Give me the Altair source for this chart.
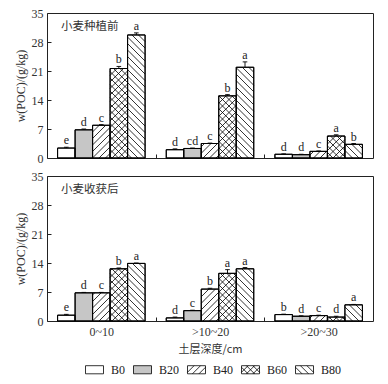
import math
import altair as alt
import pandas as pd

groups = ["0~10", ">10~20", ">20~30"]
series = ["B0", "B20", "B40", "B60", "B80"]
fills = ["#ffffff", "#c6c6c6", "#ffffff", "#ffffff", "#ffffff"]
hatches = ["", "", "/", "x", "\\"]

# 小麦种植前 (before planting), rows = soil depth groups, cols = B0..B80
before_0_10 = [2.4, 6.8, 7.9, 21.6, 29.7]
before_10_20 = [2.0, 2.3, 3.5, 15.0, 21.9]
before_20_30 = [0.9, 0.8, 1.6, 5.3, 3.3]
before_err = [[0.2, 0.2, 0.15, 0.5, 0.5],
              [0.2, 0.1, 0.1, 0.3, 1.3],
              [0.1, 0.1, 0.1, 0.3, 0.2]]
before_letters = [["e", "d", "c", "b", "a"],
                  ["d", "cd", "c", "b", "a"],
                  ["d", "d", "c", "a", "b"]]

# 小麦收获后 (after harvest)
after_0_10 = [1.4, 6.8, 6.8, 12.6, 13.9]
after_10_20 = [0.75, 2.5, 7.7, 11.5, 12.6]
after_20_30 = [1.55, 1.15, 1.3, 0.95, 3.9]
after_err = [[0.2, 0.1, 0.1, 0.2, 0.1],
             [0.2, 0.1, 0.2, 0.9, 0.3],
             [0.1, 0.1, 0.1, 0.2, 0.1]]
after_letters = [["e", "d", "c", "b", "a"],
                 ["d", "c", "b", "a", "a"],
                 ["b", "d", "c", "d", "a"]]

y_ticks = [0, 7, 14, 21, 28, 35]

W, H = 326, 145
XMIN, XMAX = -0.5, 2.5
YMAX = 35
SX = W / (XMAX - XMIN)
SY = H / YMAX
BW = 17.5 / SX
CAP = 2.3 / SX
D = 6.5  # hatch spacing (px, horizontal)

SERIF = "Times New Roman, Liberation Serif, DejaVu Serif, serif"
CJK = "Noto Sans CJK SC"


def hatch(x0, x1, y0, y1, d, slope):
    segs = []
    if slope > 0:  # '/'  Y = X - c
        kmin = math.ceil((x0 - y1) / d)
        kmax = math.floor((x1 - y0) / d)
        for k in range(kmin, kmax + 1):
            c = k * d
            a = max(x0, y0 + c)
            b = min(x1, y1 + c)
            if b - a > 0.3:
                segs.append((a, a - c, b, b - c))
    else:  # '\'  Y = c - X
        kmin = math.ceil((x0 + y0) / d)
        kmax = math.floor((x1 + y1) / d)
        for k in range(kmin, kmax + 1):
            c = k * d
            a = max(x0, c - y1)
            b = min(x1, c - y0)
            if b - a > 0.3:
                segs.append((a, c - a, b, c - b))
    return segs


def slopes(kind):
    return {"/": [1], "\\": [-1], "x": [1, -1]}.get(kind, [])


def legend_path(kind):
    s = 9.0  # symbol scale (sqrt(size)/2)
    hw, hh = 1.0, 0.45
    p = "M-1,-0.45L1,-0.45L1,0.45L-1,0.45Z"
    for sl in slopes(kind):
        for a, ya, b, yb in hatch(-hw * s, hw * s, -hh * s, hh * s, D, sl):
            p += " M%.3f,%.3f L%.3f,%.3f" % (a / s, -ya / s, b / s, -yb / s)
    return p


paths = [legend_path(h) for h in hatches]


def panel(vals, errs, letters, title, bottom):
    rows, hrows = [], []
    for g in range(3):
        for j in range(5):
            c = g + (j - 2) * BW
            v = vals[g][j]
            e = errs[g][j]
            rows.append(dict(series=series[j], xc=c, xl=c - BW / 2, xr=c + BW / 2,
                             v=v, top=v + e, lt=letters[g][j], fill=fills[j],
                             cl=c - CAP, cr=c + CAP, zero=0.0))
            X0 = (c - BW / 2 - XMIN) * SX
            X1 = (c + BW / 2 - XMIN) * SX
            for sl in slopes(hatches[j]):
                for a, ya, b, yb in hatch(X0, X1, 0.0, v * SY, D, sl):
                    hrows.append(dict(hx=a / SX + XMIN, hy=ya / SY,
                                      hx2=b / SX + XMIN, hy2=yb / SY))
    df = pd.DataFrame(rows)
    hdf = pd.DataFrame(hrows)

    xs = alt.Scale(domain=[XMIN, XMAX], nice=False, zero=False)
    ys = alt.Scale(domain=[0, YMAX], nice=False, zero=False)

    if bottom:
        xaxis = alt.Axis(values=[0, 0.5, 1, 1.5, 2], tickCount=20, offset=-4, tickSize=4,
                         tickOpacity={"condition": {"test": "datum.value % 1 != 0", "value": 1}, "value": 0},
                         labelExpr="datum.value % 1 != 0 ? '' : ['0~10','>10~20','>20~30'][datum.value]",
                         labelPadding=5, labelOverlap=False, labelFlush=False,
                         grid=False, domain=False, title="土层深度/cm",
                         titleFont=CJK, titleFontSize=11, titleFontWeight="normal",
                         titlePadding=6, titleColor="#333")
    else:
        xaxis = alt.Axis(values=[0.5, 1.5], tickCount=20, offset=-4, tickSize=4, labels=False,
                         grid=False, domain=False, title=None)
    yaxis = alt.Axis(values=y_ticks, tickCount=20, offset=-4, tickSize=4, labelPadding=4,
                     labelOverlap=False, labelFlush=False,
                     grid=False, domain=False, title="w(POC)/(g/kg)",
                     titleFont=SERIF, titleFontSize=12, titleFontWeight="normal",
                     titlePadding=4, titleColor="#333")

    base = alt.Chart(df)
    bars = base.mark_rect(stroke="black", strokeWidth=1).encode(
        x=alt.X("xl:Q", scale=xs, axis=xaxis),
        x2="xr:Q",
        y=alt.Y("zero:Q", scale=ys, axis=yaxis),
        y2="v:Q",
        fill=alt.Fill("fill:N", scale=None),
    )
    hl = alt.Chart(hdf).mark_rule(color="black", strokeWidth=0.8).encode(
        x=alt.X("hx:Q", scale=xs), x2="hx2:Q",
        y=alt.Y("hy:Q", scale=ys), y2="hy2:Q",
    )
    outline = base.mark_rect(fillOpacity=0, stroke="black", strokeWidth=1).encode(
        x=alt.X("xl:Q", scale=xs), x2="xr:Q",
        y=alt.Y("zero:Q", scale=ys), y2="v:Q",
    )
    eb = base.mark_rule(color="black", strokeWidth=0.9).encode(
        x=alt.X("xc:Q", scale=xs), y=alt.Y("v:Q", scale=ys), y2="top:Q")
    cap = base.mark_rule(color="black", strokeWidth=0.9).encode(
        x=alt.X("cl:Q", scale=xs), x2="cr:Q", y=alt.Y("top:Q", scale=ys))
    txt = base.mark_text(font=SERIF, fontSize=12, color="#222", baseline="alphabetic",
                         dy=-3).encode(
        x=alt.X("xc:Q", scale=xs), y=alt.Y("top:Q", scale=ys), text="lt:N")
    ttl = alt.Chart(pd.DataFrame({"t": [title]})).mark_text(
        font=CJK, fontSize=11.5, color="#333", align="left", baseline="middle").encode(
        x=alt.value(14), y=alt.value(14), text="t:N")

    layers = [bars, hl, outline, eb, cap, txt, ttl]
    if bottom:
        lg = alt.Legend(title=None, orient="none", direction="horizontal",
                        legendX=38, legendY=347, columns=5,
                        labelFont=SERIF, labelFontSize=12, labelColor="#222",
                        symbolSize=324, symbolStrokeColor="black", symbolStrokeWidth=0.8,
                        labelOffset=7, columnPadding=5, symbolOpacity=1)
        pdf = pd.DataFrame({"series": series, "px": [0.0] * 5, "py": [-10.0] * 5})
        pts = alt.Chart(pdf).mark_point(clip=True, filled=True, size=324,
                                        stroke="black", strokeWidth=0.8).encode(
            x=alt.X("px:Q", scale=xs), y=alt.Y("py:Q", scale=ys),
            fill=alt.Fill("series:N", scale=alt.Scale(domain=series, range=fills), legend=lg),
            shape=alt.Shape("series:N", scale=alt.Scale(domain=series, range=paths), legend=lg),
        )
        layers = [pts] + layers
    return alt.layer(*layers).properties(width=W, height=H)


top = panel([before_0_10, before_10_20, before_20_30], before_err, before_letters,
            "小麦种植前", False)
bot = panel([after_0_10, after_10_20, after_20_30], after_err, after_letters,
            "小麦收获后", True)

chart = alt.vconcat(top, bot, spacing=4).properties(
    padding={"top": -2, "left": 5, "right": 5, "bottom": 0}
).configure_view(stroke="#222", strokeWidth=1).configure_axis(
    labelFont=SERIF, labelFontSize=12, labelColor="#333", tickColor="#222",
    tickWidth=1,
)

chart.save("out.html", embed_options={"renderer": "svg", "actions": False})
